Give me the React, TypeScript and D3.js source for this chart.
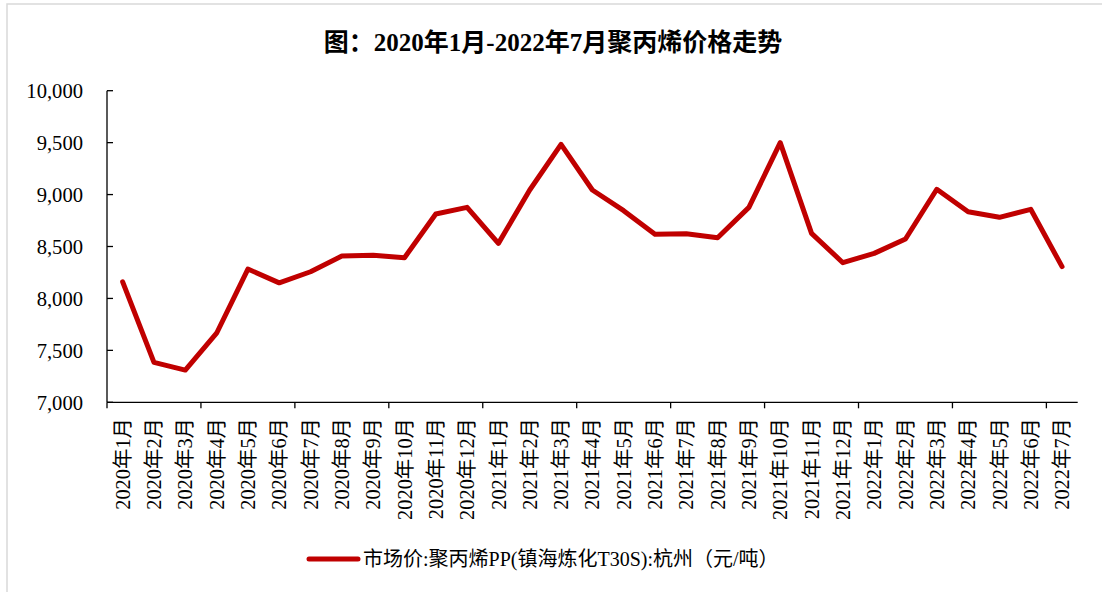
import React from "react";
import * as d3 from "d3";

const title = "图：2020年1月-2022年7月聚丙烯价格走势";
const seriesName = "市场价:聚丙烯PP(镇海炼化T30S):杭州（元/吨）";

const months: string[] = [
  "2020年1月", "2020年2月", "2020年3月", "2020年4月", "2020年5月", "2020年6月",
  "2020年7月", "2020年8月", "2020年9月", "2020年10月", "2020年11月", "2020年12月",
  "2021年1月", "2021年2月", "2021年3月", "2021年4月", "2021年5月", "2021年6月",
  "2021年7月", "2021年8月", "2021年9月", "2021年10月", "2021年11月", "2021年12月",
  "2022年1月", "2022年2月", "2022年3月", "2022年4月", "2022年5月", "2022年6月",
  "2022年7月",
];

const prices: number[] = [
  8160, 7385, 7310, 7665, 8283, 8150, 8257, 8408, 8415, 8392, 8813, 8877,
  8530, 9044, 9484, 9044, 8845, 8617, 8623, 8585, 8877, 9500, 8627, 8344,
  8434, 8572, 9051, 8835, 8781, 8858, 8306,
];

const yTicks: number[] = [7000, 7500, 8000, 8500, 9000, 9500, 10000];

const W = 1102;
const H = 592;
const left = 107;
const right = 1077.7;
const top = 90.7;
const bottom = 402.3;
const RED = "#C00000";
const SERIF = "'Liberation Serif', 'Times New Roman', 'Noto Sans CJK SC', serif";

export default function App() {
  const x = d3.scaleBand<string>().domain(months).range([left, right]).padding(0);
  const y = d3.scaleLinear().domain([7000, 10000]).range([bottom, top]);
  const line = d3
    .line<number>()
    .x((_, i) => (x(months[i]) as number) + x.bandwidth() / 2)
    .y((d) => y(d));
  const fmt = d3.format(",");
  const bw = x.bandwidth();
  const xTickIdx = d3.range(0, months.length + 1, 3);

  return (
    <svg
      width={W}
      height={H}
      style={{ position: "absolute", left: 0, top: 0, background: "#fff" }}
    >
      <rect x={7} y={4} width={W} height={H} fill="#fff" stroke="#d9d9d9" strokeWidth={1.5} />
      <text
        x={553}
        y={51}
        textAnchor="middle"
        fontFamily={SERIF}
        fontWeight="bold"
        fontSize={25}
        fill="#000"
      >
        {title}
      </text>

      {/* y axis */}
      <line x1={left} x2={left} y1={top} y2={bottom} stroke="#000" strokeWidth={1.3} />
      {yTicks.map((t) => (
        <g key={t}>
          <line x1={left} x2={left + 6} y1={y(t)} y2={y(t)} stroke="#000" strokeWidth={1.3} />
          <text
            x={83}
            y={y(t)}
            dy="0.35em"
            textAnchor="end"
            fontFamily={SERIF}
            fontSize={20.6}
            fill="#000"
          >
            {fmt(t)}
          </text>
        </g>
      ))}

      {/* x axis */}
      <line x1={left} x2={right} y1={bottom} y2={bottom} stroke="#000" strokeWidth={1.3} />
      {xTickIdx.map((k) => (
        <line
          key={k}
          x1={left + k * bw}
          x2={left + k * bw}
          y1={bottom}
          y2={bottom + 6}
          stroke="#000"
          strokeWidth={1.3}
        />
      ))}
      {months.map((m) => {
        const cx = (x(m) as number) + bw / 2;
        return (
          <text
            key={m}
            transform={`translate(${cx},418) rotate(-90)`}
            dy="0.35em"
            textAnchor="end"
            fontFamily={SERIF}
            fontSize={20.4}
            fill="#000"
          >
            {m}
          </text>
        );
      })}

      <path
        d={line(prices) || ""}
        fill="none"
        stroke={RED}
        strokeWidth={5}
        strokeLinejoin="round"
        strokeLinecap="round"
      />

      {/* legend */}
      <line x1={309} x2={358} y1={559} y2={559} stroke={RED} strokeWidth={5} strokeLinecap="round" />
      <text x={363} y={559} dy="0.35em" fontFamily={SERIF} fontSize={20} fill="#000">
        {seriesName}
      </text>
    </svg>
  );
}
